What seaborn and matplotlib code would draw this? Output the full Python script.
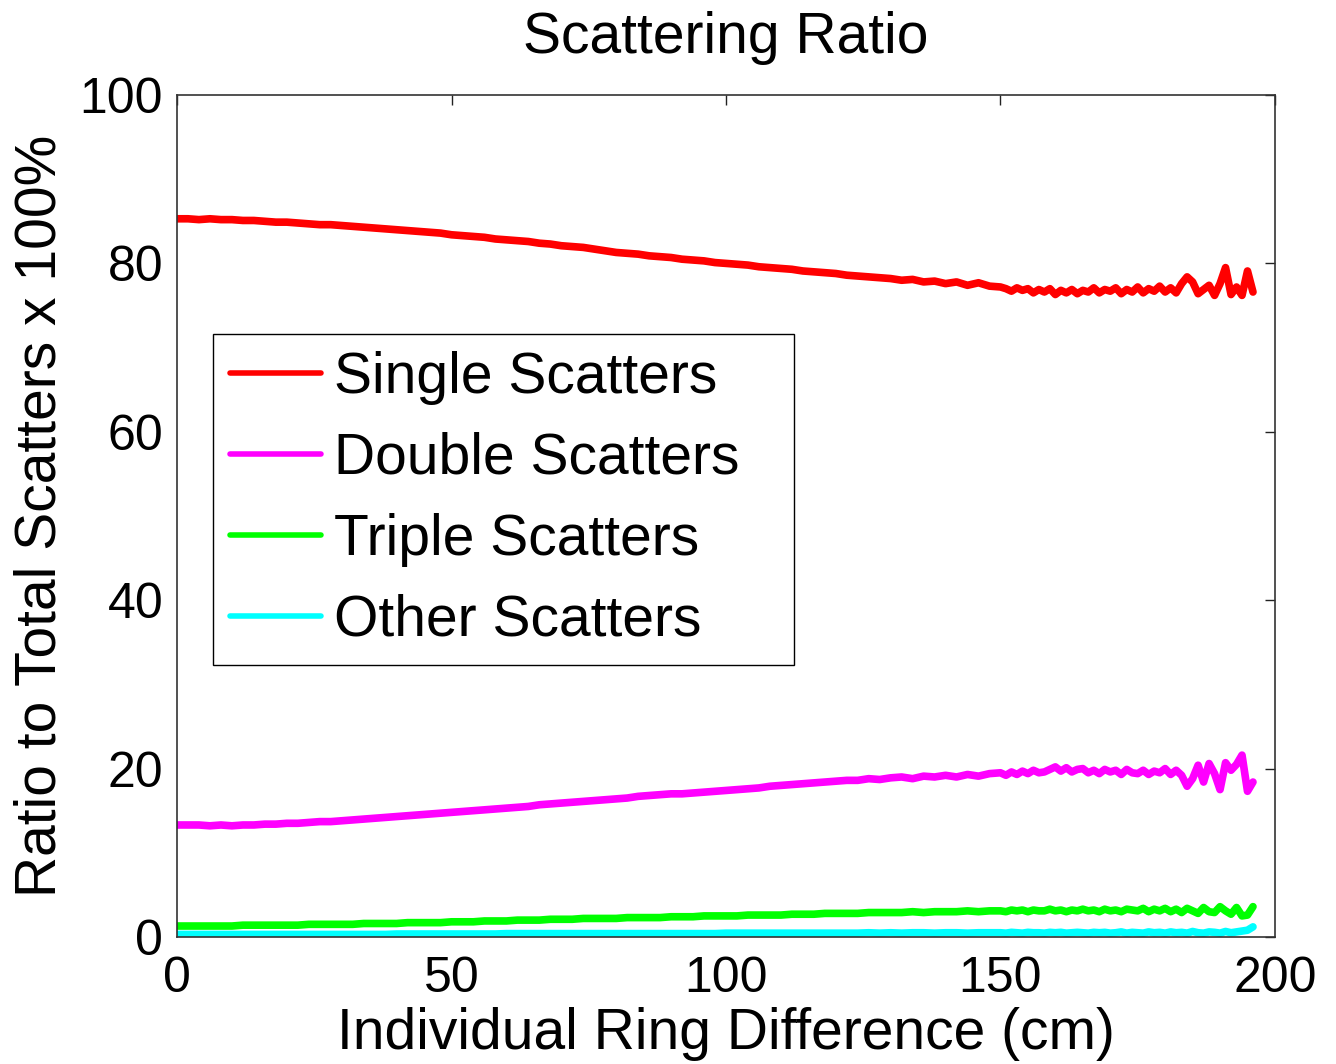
import numpy as np
import pandas as pd
import matplotlib
matplotlib.use("Agg")
import matplotlib.pyplot as plt
import seaborn as sns

# ---- data ----
x_coarse = list(range(0, 150, 2))   # 0..148 step 2
x_fine = list(range(150, 197))      # 150..196 step 1
x_vals = x_coarse + x_fine

single = [
    85.3, 85.3, 85.2, 85.3, 85.2, 85.2, 85.1, 85.1, 85.0, 84.9, 84.9, 84.8, 84.7, 84.6, 84.6,
    84.5, 84.4, 84.3, 84.2, 84.1, 84.0, 83.9, 83.8, 83.7, 83.6, 83.4, 83.3, 83.2, 83.1, 82.9,
    82.8, 82.7, 82.6, 82.4, 82.3, 82.1, 82.0, 81.9, 81.7, 81.5, 81.3, 81.2, 81.1, 80.9, 80.8,
    80.7, 80.5, 80.4, 80.3, 80.1, 80.0, 79.9, 79.8, 79.6, 79.5, 79.4, 79.3, 79.1, 79.0, 78.9,
    78.8, 78.6, 78.5, 78.4, 78.3, 78.2, 78.0, 78.1, 77.8, 77.9, 77.6, 77.8, 77.4, 77.7, 77.3,
    77.2, 77.0, 76.7, 77.1, 76.8, 77.0, 76.5, 76.9, 76.6, 77.0, 76.3, 76.8, 76.5, 76.9, 76.4,
    76.8, 76.6, 77.1, 76.5, 76.9, 76.7, 77.1, 76.4, 76.9, 76.6, 77.2, 76.5, 77.0, 76.7, 77.3,
    76.6, 77.1, 76.5, 77.6, 78.4, 77.8, 76.4, 76.9, 77.4, 76.2, 77.6, 79.5, 76.3, 77.2, 76.2,
    79.1, 76.6,
]

double = [
    13.3, 13.3, 13.3, 13.2, 13.3, 13.2, 13.3, 13.3, 13.4, 13.4, 13.5, 13.5, 13.6, 13.7, 13.7,
    13.8, 13.9, 14.0, 14.1, 14.2, 14.3, 14.4, 14.5, 14.6, 14.7, 14.8, 14.9, 15.0, 15.1, 15.2,
    15.3, 15.4, 15.5, 15.7, 15.8, 15.9, 16.0, 16.1, 16.2, 16.3, 16.4, 16.5, 16.7, 16.8, 16.9,
    17.0, 17.0, 17.1, 17.2, 17.3, 17.4, 17.5, 17.6, 17.7, 17.9, 18.0, 18.1, 18.2, 18.3, 18.4,
    18.5, 18.6, 18.6, 18.8, 18.7, 18.9, 19.0, 18.8, 19.1, 19.0, 19.2, 19.0, 19.3, 19.1, 19.4,
    19.5, 19.2, 19.6, 19.3, 19.7, 19.4, 19.8, 19.5, 19.6, 19.9, 20.2, 19.7, 20.1, 19.6, 19.9,
    20.0, 19.5, 19.8, 19.4, 19.9, 19.6, 19.8, 19.3, 19.9, 19.5, 19.4, 19.8, 19.3, 19.7, 19.5,
    20.0, 19.3, 19.8, 19.2, 17.9, 18.8, 20.4, 18.4, 20.6, 19.4, 17.5, 20.7, 19.8, 20.5, 21.6,
    17.3, 18.4,
]

triple = [
    1.3, 1.3, 1.3, 1.3, 1.3, 1.3, 1.4, 1.4, 1.4, 1.4, 1.4, 1.4, 1.5, 1.5, 1.5,
    1.5, 1.5, 1.6, 1.6, 1.6, 1.6, 1.7, 1.7, 1.7, 1.7, 1.8, 1.8, 1.8, 1.9, 1.9,
    1.9, 2.0, 2.0, 2.0, 2.1, 2.1, 2.1, 2.2, 2.2, 2.2, 2.2, 2.3, 2.3, 2.3, 2.3,
    2.4, 2.4, 2.4, 2.5, 2.5, 2.5, 2.5, 2.6, 2.6, 2.6, 2.6, 2.7, 2.7, 2.7, 2.8,
    2.8, 2.8, 2.8, 2.9, 2.9, 2.9, 2.9, 3.0, 2.9, 3.0, 3.0, 3.0, 3.1, 3.0, 3.1,
    3.1, 3.0, 3.2, 3.1, 3.2, 3.0, 3.2, 3.1, 3.1, 3.3, 3.1, 3.2, 3.0, 3.2, 3.1,
    3.3, 3.1, 3.2, 3.0, 3.3, 3.1, 3.2, 3.0, 3.3, 3.2, 3.1, 3.4, 3.0, 3.3, 3.1,
    3.4, 3.0, 3.3, 2.9, 3.4, 3.1, 2.8, 3.5, 3.0, 2.9, 3.6, 3.1, 2.7, 3.5, 2.5,
    2.6, 3.6,
]

other = [
    0.30, 0.30, 0.30, 0.30, 0.30, 0.30, 0.30, 0.30, 0.30, 0.30, 0.30, 0.30, 0.30, 0.30, 0.30,
    0.30, 0.30, 0.30, 0.30, 0.30, 0.35, 0.35, 0.35, 0.35, 0.35, 0.35, 0.35, 0.35, 0.35, 0.35,
    0.40, 0.40, 0.40, 0.40, 0.40, 0.40, 0.40, 0.40, 0.40, 0.40, 0.40, 0.40, 0.40, 0.40, 0.40,
    0.40, 0.40, 0.40, 0.40, 0.40, 0.45, 0.45, 0.45, 0.45, 0.45, 0.45, 0.45, 0.45, 0.45, 0.45,
    0.45, 0.45, 0.45, 0.50, 0.45, 0.50, 0.45, 0.50, 0.50, 0.45, 0.50, 0.50, 0.45, 0.50, 0.50,
    0.50, 0.45, 0.55, 0.50, 0.45, 0.55, 0.50, 0.50, 0.45, 0.55, 0.50, 0.55, 0.45, 0.50, 0.55,
    0.50, 0.45, 0.55, 0.50, 0.55, 0.45, 0.50, 0.60, 0.45, 0.55, 0.50, 0.45, 0.60, 0.50, 0.55,
    0.45, 0.60, 0.50, 0.55, 0.45, 0.65, 0.50, 0.45, 0.60, 0.55, 0.45, 0.65, 0.50, 0.60, 0.70,
    0.80, 1.20,
]

series_names = ["Single Scatters", "Double Scatters", "Triple Scatters", "Other Scatters"]
series_colors = ["#FF0000", "#FF00FF", "#00FF00", "#00FFFF"]
x_ticks = [0, 50, 100, 150, 200]
y_ticks = [0, 20, 40, 60, 80, 100]

frames = []
for name, vals in zip(series_names, [single, double, triple, other]):
    frames.append(pd.DataFrame({"x": x_vals, "y": vals, "Series": name}))
df = pd.concat(frames, ignore_index=True)

# ---- plot ----
sns.set_theme(style="white")
plt.rcParams["font.family"] = ["Liberation Sans", "DejaVu Sans"]
plt.rcParams["text.color"] = "black"
plt.rcParams["axes.labelcolor"] = "black"

fig = plt.figure(figsize=(13.36, 10.64), dpi=100)
ax = fig.add_axes([0.1325, 0.1194, 0.8218, 0.7913])

sns.lineplot(data=df, x="x", y="y", hue="Series", hue_order=series_names,
             palette=series_colors, linewidth=5.5, ax=ax, legend=False,
             estimator=None, sort=True)

ax.set_xlim(0, 200)
ax.set_ylim(0, 100)
ax.set_xticks(x_ticks)
ax.set_yticks(y_ticks)
ax.tick_params(direction="in", top=True, right=True, length=7, width=1.0,
               color="#222222", labelsize=36, labelcolor="black")
ax.tick_params(axis="x", pad=14)
ax.tick_params(axis="y", pad=10)
for s in ax.spines.values():
    s.set_color("#333333")
    s.set_linewidth(1.2)
    s.set_visible(True)

ax.set_title("Scattering Ratio", fontsize=41, pad=30, color="black")
ax.set_xlabel("Individual Ring Difference (cm)", fontsize=41, labelpad=3)
ax.set_ylabel("Ratio to Total Scatters x 100%", fontsize=41, labelpad=9)

handles = [plt.Line2D([], [], color=c, linewidth=4) for c in series_colors]
leg = ax.legend(handles, series_names, loc="upper left", mode="expand",
                bbox_to_anchor=(0.0328, 0.324, 0.529, 0.392), fontsize=41,
                frameon=True, fancybox=False, edgecolor="black", framealpha=1,
                handlelength=1.6, handletextpad=0.22, labelspacing=0.47,
                borderpad=0.3, borderaxespad=0)
leg.get_frame().set_linewidth(1.0)
for t in leg.get_texts():
    t.set_color("black")

fig.savefig("out.png", dpi=100)
